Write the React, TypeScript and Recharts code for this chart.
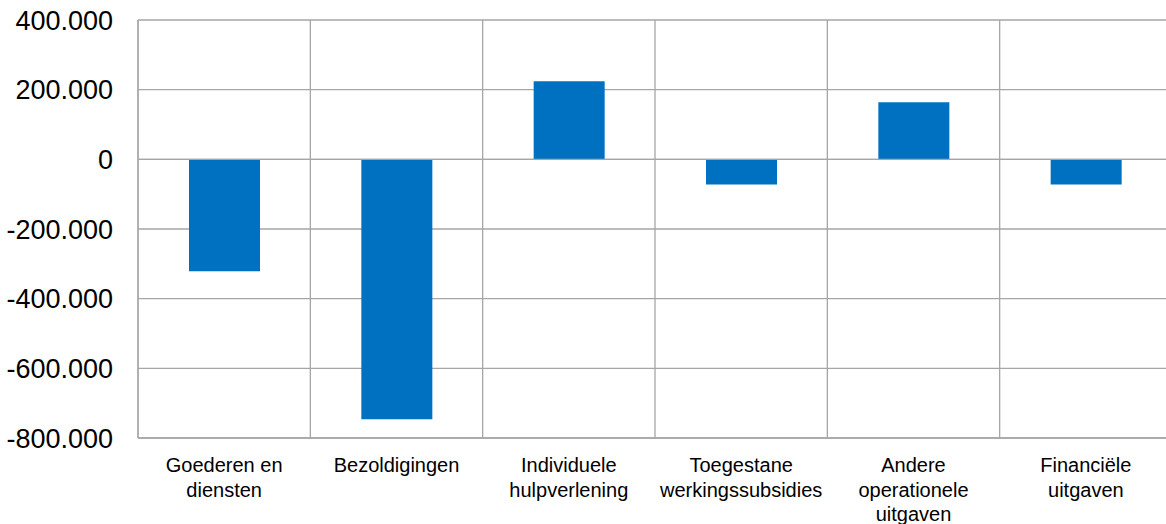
import React from 'react';
import { BarChart, Bar, XAxis, YAxis, CartesianGrid, ReferenceLine } from 'recharts';

const categories = [
  'Goederen en\ndiensten',
  'Bezoldigingen',
  'Individuele\nhulpverlening',
  'Toegestane\nwerkingssubsidies',
  'Andere\noperationele\nuitgaven',
  'Financiële\nuitgaven',
];
const values = [-321000, -746000, 224000, -72000, 164000, -72000];
const yTicks = [-800000, -600000, -400000, -200000, 0, 200000, 400000];

const data = categories.map((name, i) => ({ name, value: values[i] }));

const fmt = (v: number) => {
  const s = Math.abs(v).toString().replace(/\B(?=(\d{3})+(?!\d))/g, '.');
  return (v < 0 ? '-' : '') + s;
};

const CategoryTick = (props: any) => {
  const { x, y, payload } = props;
  const lines = String(payload.value).split('\n');
  return (
    <text x={x} y={y} textAnchor="middle" fill="#000" fontSize={20} fontFamily="'Liberation Sans', Arial, sans-serif">
      {lines.map((l, i) => (
        <tspan key={i} x={x} dy={i === 0 ? 26 : 24.5}>{l}</tspan>
      ))}
    </text>
  );
};

export default function App() {
  return (
    <div style={{ position: 'absolute', left: 0, top: 0, width: 1166, height: 524, overflow: 'hidden', background: '#fff' }}>
      <BarChart width={1180} height={524} data={data} margin={{ top: 20, right: 8, bottom: 0, left: 0 }}>
        <CartesianGrid
          stroke="#a6a6a6"
          strokeWidth={1.3}
          verticalCoordinatesGenerator={({ offset }: any) =>
            categories.map((_, i) => offset.left + (i * offset.width) / categories.length).concat(offset.left + offset.width)
          }
        />
        <XAxis
          dataKey="name"
          height={86}
          interval={0}
          axisLine={{ stroke: '#a6a6a6', strokeWidth: 1.3 }}
          tickLine={false}
          tick={<CategoryTick />}
        />
        <YAxis
          width={138}
          domain={[-800000, 400000]}
          ticks={yTicks}
          tickFormatter={fmt}
          axisLine={{ stroke: '#a6a6a6', strokeWidth: 1.3 }}
          tickLine={false}
          tickSize={0}
          tickMargin={25}
          tick={{ fontSize: 27, fill: '#000', fontFamily: "'Liberation Sans', Arial, sans-serif" }}
        />
        <Bar dataKey="value" fill="#0070c0" barSize={71} isAnimationActive={false} />
        <ReferenceLine y={0} stroke="#a6a6a6" strokeWidth={1.3} />
      </BarChart>
    </div>
  );
}
